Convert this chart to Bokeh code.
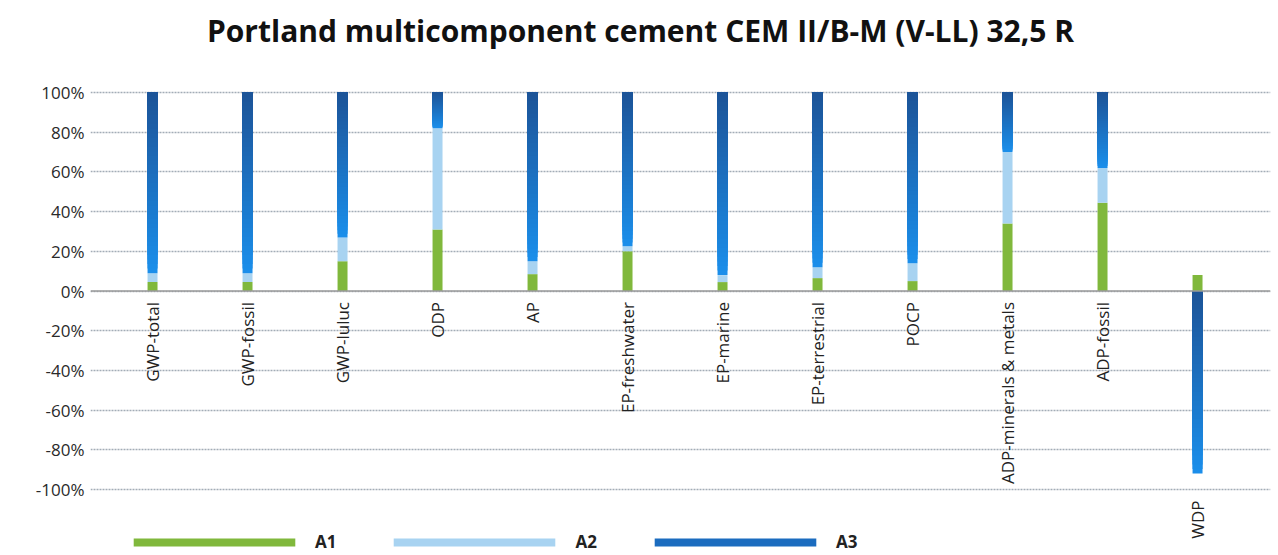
import math
from bokeh.plotting import figure
from bokeh.models import (Range1d, FixedTicker, Span, Legend, LegendItem, Label,
                          ColumnDataSource, PrintfTickFormatter)
from bokeh.core.properties import value
from bokeh.embed import file_html
from bokeh.resources import INLINE

# ---------------- data ----------------
title = "Portland multicomponent cement CEM II/B-M (V-LL) 32,5 R"
categories = ["GWP-total", "GWP-fossil", "GWP-luluc", "ODP", "AP", "EP-freshwater",
              "EP-marine", "EP-terrestrial", "POCP", "ADP-minerals & metals",
              "ADP-fossil", "WDP"]
A1 = [4.5, 4.5, 15.0, 31.0, 8.5, 20.0, 4.5, 6.5, 5.0, 34.0, 44.5, 8.0]
A2 = [4.5, 4.5, 12.0, 51.0, 6.5, 2.5, 3.5, 5.5, 9.0, 36.0, 17.5, 0.0]
A3 = [91.0, 91.0, 73.0, 18.0, 85.0, 77.5, 92.0, 88.0, 86.0, 30.0, 38.0, -92.0]
series_names = ["A1", "A2", "A3"]
y_ticks = [-100, -80, -60, -40, -20, 0, 20, 40, 60, 80, 100]

# ---------------- styles ----------------
GREEN = "#80b83c"
LIGHT = "#a8d3f1"
DARK_TOP = (0x1c, 0x54, 0x98)
DARK_BOT = (0x1b, 0x8e, 0xea)
FONT = "Open Sans"
BAR_W = 0.105
N_GRAD = 40
W, H = 1276, 553
BORDER_L, BORDER_R = 90, 6

x = list(range(len(categories)))

# stacking (positive and negative separately)
segments = {name: {"x": [], "bottom": [], "top": []} for name in series_names}
for i in x:
    pos, neg = 0.0, 0.0
    for name, vals in zip(series_names, [A1, A2, A3]):
        v = vals[i]
        if v >= 0:
            b, t = pos, pos + v
            pos = t
        else:
            b, t = neg + v, neg
            neg = b
        segments[name]["x"].append(i)
        segments[name]["bottom"].append(b)
        segments[name]["top"].append(t)

# frame spans the full height; the title area is the empty top of the y range
p = figure(width=W, height=H, output_backend="svg", toolbar_location=None,
           x_range=Range1d(-0.653, 11.768), y_range=Range1d(-132.24, 146.35),
           min_border_left=BORDER_L, min_border_right=BORDER_R,
           min_border_top=0, min_border_bottom=0, outline_line_color=None)

p.add_layout(Label(x=640 - BORDER_L, y=H - 30, x_units="screen", y_units="screen",
                   text=title, text_align="center", text_baseline="middle",
                   text_font=FONT, text_font_size="30px", text_font_style="bold",
                   text_color="#111111"))

p.xaxis.visible = False
p.xgrid.visible = False
p.yaxis.ticker = FixedTicker(ticks=y_ticks)
p.yaxis.formatter = PrintfTickFormatter(format="%d%%")
p.yaxis.axis_line_color = None
p.yaxis.major_tick_line_color = None
p.yaxis.minor_tick_line_color = None
p.yaxis.major_label_text_font = FONT
p.yaxis.major_label_text_font_size = "17px"
p.yaxis.major_label_text_color = "#2a2a2a"
p.yaxis.major_label_standoff = 0
p.ygrid.grid_line_color = "#a3acb6"
p.ygrid.grid_line_dash = "2 1"
p.ygrid.grid_line_width = 1.5

p.add_layout(Span(location=0, dimension="width", line_color="#9a9a9a", line_width=1.5))

r1 = p.vbar(x="x", bottom="bottom", top="top", width=BAR_W, fill_color=GREEN,
            line_color=None, source=ColumnDataSource(segments["A1"]))
r2 = p.vbar(x="x", bottom="bottom", top="top", width=BAR_W, fill_color=LIGHT,
            line_color=None, source=ColumnDataSource(segments["A2"]))

# A3 with vertical gradient (dark at top, bright at bottom):
# each layer spans from its start up to the segment top, drawn bottom-first
gx, gb, gt, gc = [], [], [], []
for k in range(N_GRAD):
    f = k / (N_GRAD - 1)
    col = "#%02x%02x%02x" % tuple(int(round(DARK_BOT[j] + (DARK_TOP[j] - DARK_BOT[j]) * f))
                                  for j in range(3))
    for i, b, t in zip(segments["A3"]["x"], segments["A3"]["bottom"], segments["A3"]["top"]):
        gx.append(i)
        gb.append(b + (t - b) * k / N_GRAD)
        gt.append(t)
        gc.append(col)
r3 = p.vbar(x="x", bottom="bottom", top="top", width=BAR_W, fill_color="color",
            line_color=None, source=ColumnDataSource(dict(x=gx, bottom=gb, top=gt, color=gc)))
r3_legend = p.vbar(x=[0], bottom=[0], top=[0], width=0, fill_color="#1b6cbf",
                   line_color=None)

# category labels: at zero line, or below the bottom tick for negative bars
label_y = [0 if v >= 0 else min(y_ticks) for v in A3]
p.text(x=x, y=label_y, text=categories, angle=math.pi / 2, text_align="right",
       text_baseline="middle", y_offset=11, text_font=value(FONT),
       text_font_size="17px", text_color="#222222")

legend = Legend(items=[LegendItem(label="A1", renderers=[r1]),
                       LegendItem(label="A2", renderers=[r2]),
                       LegendItem(label="A3", renderers=[r3_legend])],
                orientation="horizontal", location=(23, 0), glyph_width=202,
                glyph_height=10, label_standoff=0, spacing=37, padding=0, margin=0,
                label_height=16, label_text_font=FONT, label_text_font_size="17px",
                label_text_font_style="bold", label_text_color="#222222",
                background_fill_alpha=0, border_line_color=None)
p.add_layout(legend)

open("out.html", "w").write(file_html(p, INLINE))
